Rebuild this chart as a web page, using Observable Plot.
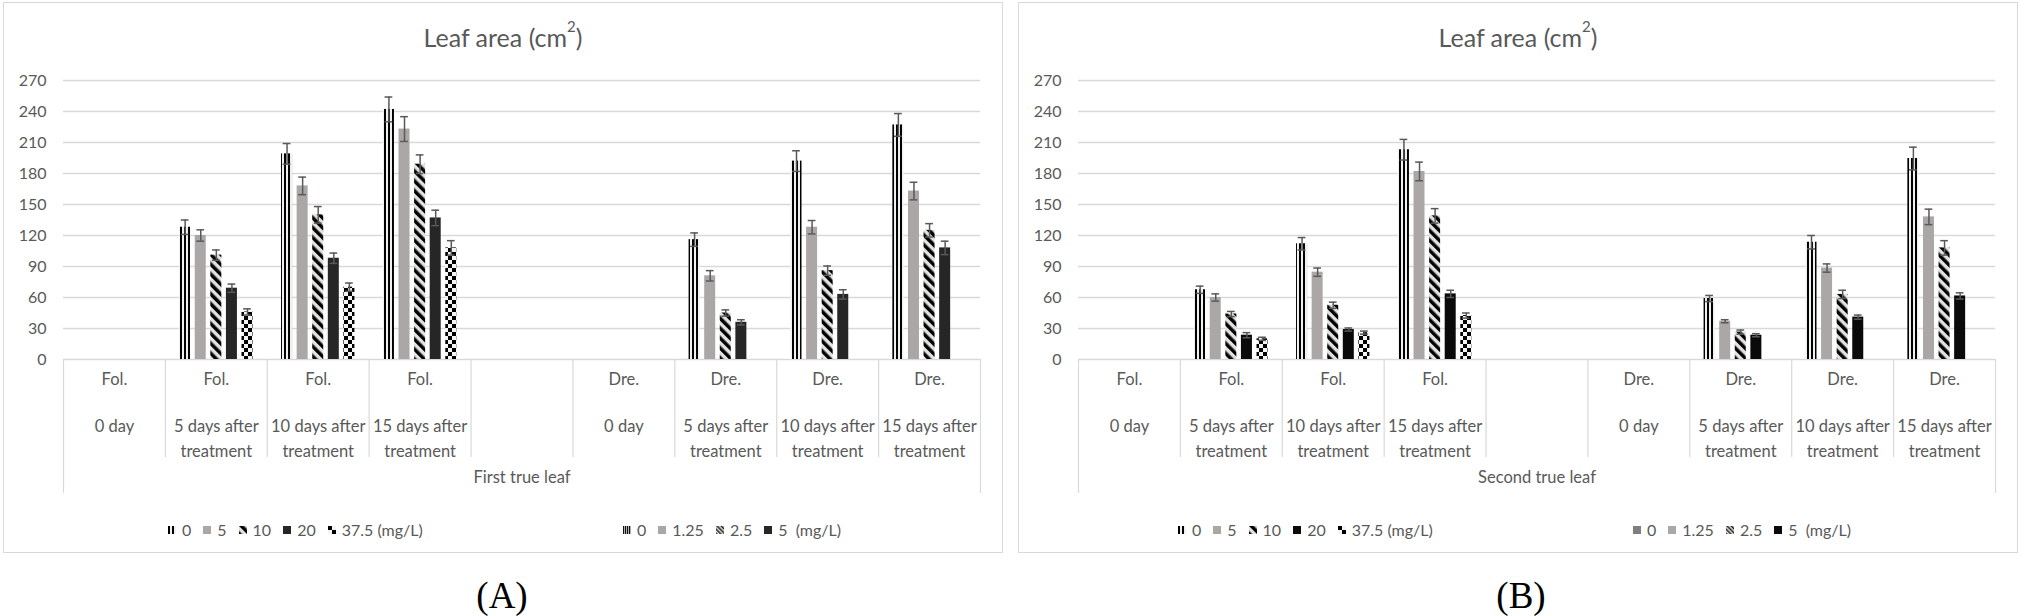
<!DOCTYPE html>
<html><head><meta charset="utf-8">
<script src="https://cdn.jsdelivr.net/npm/d3@7"></script>
<script src="https://cdn.jsdelivr.net/npm/@observablehq/plot@0.6"></script>
<style>
html,body{margin:0;padding:0;background:#fff;}
body{width:2021px;height:616px;position:relative;overflow:hidden;font-family:Lato,sans-serif;color:#595959;}
.panel{position:absolute;top:2px;width:1000px;height:551px;border:1px solid #d9d9d9;box-sizing:border-box;}
.title{position:absolute;left:0;right:0;top:19px;line-height:30px;text-align:center;font-size:25px;white-space:nowrap;}
.title sup{font-size:15px;position:relative;top:-3px;vertical-align:top;line-height:15px;}
.chart{position:absolute;left:0;top:57px;}
.legend{position:absolute;top:517px;height:20px;line-height:20px;font-size:16px;white-space:pre;display:flex;align-items:center;}
.item{display:flex;align-items:center;margin-right:12px;}
.sw{width:8px;height:8px;margin-right:6px;display:block;}
.cap{position:absolute;top:576px;font-family:"Liberation Serif",serif;font-size:37px;line-height:40px;color:#000;text-align:center;width:200px;}
</style>
</head>
<body>
<svg width="0" height="0" style="position:absolute;left:0;top:0">
<defs>
  <pattern id="vstripe" width="4" height="4" patternUnits="userSpaceOnUse">
    <rect width="4" height="4" fill="#f0f0f0"/><rect width="2" height="4" fill="#000"/>
  </pattern>
  <pattern id="vfine" width="2" height="2" patternUnits="userSpaceOnUse">
    <rect width="2" height="2" fill="#b0b0b0"/><rect width="1" height="2" fill="#111"/>
  </pattern>
  <pattern id="diag" width="7" height="7" patternUnits="userSpaceOnUse" patternTransform="rotate(-45)">
    <rect width="7" height="7" fill="#e2e2e2"/><rect width="3.5" height="7" fill="#000"/>
  </pattern>
  <pattern id="diagfine" width="3" height="3" patternUnits="userSpaceOnUse" patternTransform="rotate(-45)">
    <rect width="3" height="3" fill="#e2e2e2"/><rect width="1.5" height="3" fill="#222"/>
  </pattern>
  <pattern id="checker" width="8" height="8" patternUnits="userSpaceOnUse">
    <rect width="8" height="8" fill="#f4f4f4"/>
    <rect width="4" height="4" fill="#000"/>
    <rect x="4" y="4" width="4" height="4" fill="#000"/>
  </pattern>
</defs>
</svg>

<div class="panel" id="panelA" style="left:3px"></div>
<div class="panel" id="panelB" style="left:1018px"></div>
<div class="cap" style="left:402px">(A)</div>
<div class="cap" style="left:1421px">(B)</div>

<script>
// ---------- data ----------
const groupLabels = ["Fol.", "Fol.", "Fol.", "Fol.", "", "Dre.", "Dre.", "Dre.", "Dre."];
const timeLabels = ["0 day", "5 days after\ntreatment", "10 days after\ntreatment", "15 days after\ntreatment", "",
                    "0 day", "5 days after\ntreatment", "10 days after\ntreatment", "15 days after\ntreatment"];
const yTicks = [0, 30, 60, 90, 120, 150, 180, 210, 240, 270];
const folDoses = ["0", "5", "10", "20", "37.5"];
const dreDoses = ["0", "1.25", "2.5", "5"];
const unitLabel = "(mg/L)";
const titleText = "Leaf area (cm";
const titleSup = "2";

// Panel A: First true leaf (rows: 0 day, 5, 10, 15 days after treatment)
const leafA = "First true leaf";
const folA = [null, [128, 120, 101, 69, 46], [199, 168, 140, 98, 70], [242, 223, 189, 137, 108]];
const folAErr = [null, [7, 5.5, 5, 4, 3], [10, 8.5, 8, 5, 4], [12, 12, 9, 7.5, 7]];
const dreA = [null, [116, 81, 45, 36], [192, 128, 86, 63], [227, 163, 125, 108]];
const dreAErr = [null, [6.5, 5, 3, 2.5], [10, 6.5, 4.5, 4.5], [11, 8.5, 6.5, 6.5]];

// Panel B: Second true leaf
const leafB = "Second true leaf";
const folB = [null, [67.5, 60, 44, 23.5, 20], [112, 84.5, 52.5, 29, 26], [203, 182, 139, 63.5, 42.5]];
const folBErr = [null, [3.5, 3.5, 2.5, 2.5, 1.5], [6, 4, 3, 1.5, 1.5], [10, 9, 7, 3.5, 2.5]];
const dreB = [null, [59, 37, 26.5, 23.5], [113.5, 88.5, 63, 41], [194.5, 138, 108, 61.5]];
const dreBErr = [null, [3, 1.5, 2, 1.5], [6.5, 4, 4, 2], [11, 7.5, 7, 3]];

// ---------- drawing ----------
const GRAY = "#aba7a7";
const n = groupLabels.length;
const pad = 0.14, step = 0.153, barW = 0.108, capHalf = 0.038;

function build(panelId, leafLabel, fol, folErr, dre, dreErr, dark, legendLeft, dre0Swatch) {
  const folFills = ["url(#vstripe)", GRAY, "url(#diag)", dark, "url(#checker)"];
  const dreFills = ["url(#vstripe)", GRAY, "url(#diag)", dark];
  const seriesKeys = [...folDoses.map(d => "Fol " + d), ...dreDoses.map(d => "Dre " + d)];
  const seriesFills = [...folFills, ...dreFills];

  const rows = [];
  const firstDre = groupLabels.indexOf("Dre.");
  fol.forEach((vals, t) => {
    if (!vals) return;
    vals.forEach((v, s) => rows.push({ci: t, slot: s, series: "Fol " + folDoses[s], value: v, err: folErr[t][s]}));
  });
  dre.forEach((vals, t) => {
    if (!vals) return;
    vals.forEach((v, s) => rows.push({ci: firstDre + t, slot: s, series: "Dre " + dreDoses[s], value: v, err: dreErr[t][s]}));
  });
  const x1 = d => d.ci + pad + d.slot * step;
  const xc = d => x1(d) + barW / 2;

  const idx = d3.range(n);
  const inner = d3.range(1, n);
  const outer = [0, n];
  const plotH = 440 - 20 - 141;
  const lineColor = "#d9d9d9";

  const chart = Plot.plot({
    width: 998, height: 440,
    marginTop: 20, marginBottom: 141, marginLeft: 59, marginRight: 22,
    x: {domain: [0, n], axis: null},
    y: {domain: [0, 270]},
    color: {type: "ordinal", domain: seriesKeys, range: seriesFills},
    style: {fontFamily: "Lato, sans-serif", fontSize: "16px", color: "#595959", background: "transparent", overflow: "visible"},
    marks: [
      Plot.ruleY(yTicks, {stroke: lineColor, strokeWidth: 1.3}),
      Plot.axisY(yTicks, {tickSize: 0, tickPadding: 17, fontSize: 16, label: null}),
      Plot.ruleX(inner, {x: d => d, insetTop: plotH, insetBottom: -98, stroke: lineColor, strokeWidth: 1.2}),
      Plot.ruleX(outer, {x: d => d, insetTop: plotH, insetBottom: -134, stroke: lineColor, strokeWidth: 1.2}),
      Plot.rectY(rows, {x1: x1, x2: d => x1(d) + barW, y: "value", fill: "series"}),
      Plot.ruleX(rows, {x: xc, y1: d => d.value - d.err, y2: d => d.value + d.err, stroke: "#595959", strokeWidth: 1.5}),
      Plot.ruleY(rows, {y: d => d.value + d.err, x1: d => xc(d) - capHalf, x2: d => xc(d) + capHalf, stroke: "#595959", strokeWidth: 1.5}),
      Plot.ruleY(rows, {y: d => d.value - d.err, x1: d => xc(d) - capHalf, x2: d => xc(d) + capHalf, stroke: "#595959", strokeWidth: 1.5}),
      Plot.text(idx, {x: i => i + 0.5, text: i => groupLabels[i], frameAnchor: "bottom", dy: 25, fontSize: 16.5, fill: "#595959"}),
      Plot.text(idx, {x: i => i + 0.5, text: i => timeLabels[i], frameAnchor: "bottom", dy: 55, lineAnchor: "top", lineHeight: 1.5, fontSize: 16.5, fill: "#595959"}),
      Plot.text([leafLabel], {text: d => d, frameAnchor: "bottom", dy: 123, fontSize: 16.5, fill: "#595959"})
    ]
  });

  const panel = d3.select("#" + panelId);
  panel.append("div").attr("class", "title").html(`${titleText}<sup>${titleSup}</sup>)`);
  panel.append("div").attr("class", "chart").node().appendChild(chart);

  const folLegend = [
    {fill: "url(#vstripe)", label: folDoses[0]},
    {fill: GRAY, label: folDoses[1]},
    {fill: "url(#diag)", label: folDoses[2]},
    {fill: dark, label: folDoses[3]},
    {fill: "url(#checker)", label: folDoses[4] + " " + unitLabel}
  ];
  const dreLegend = [
    {fill: dre0Swatch, label: dreDoses[0]},
    {fill: GRAY, label: dreDoses[1]},
    {fill: "url(#diagfine)", label: dreDoses[2]},
    {fill: dark, label: dreDoses[3] + "  " + unitLabel}
  ];
  [[folLegend, legendLeft[0]], [dreLegend, legendLeft[1]]].forEach(([items, left]) => {
    const lg = panel.append("div").attr("class", "legend").style("left", left + "px");
    items.forEach(it => {
      const item = lg.append("div").attr("class", "item");
      item.append("svg").attr("class", "sw").attr("width", 8).attr("height", 8)
        .append("rect").attr("width", 8).attr("height", 8).attr("fill", it.fill);
      item.append("span").text(it.label);
    });
  });
}

build("panelA", leafA, folA, folAErr, dreA, dreAErr, "#262626", [164, 619], "url(#vfine)");
build("panelB", leafB, folB, folBErr, dreB, dreBErr, "#0a0a0a", [159, 614], "#7f7f7f");
</script>
</body></html>
